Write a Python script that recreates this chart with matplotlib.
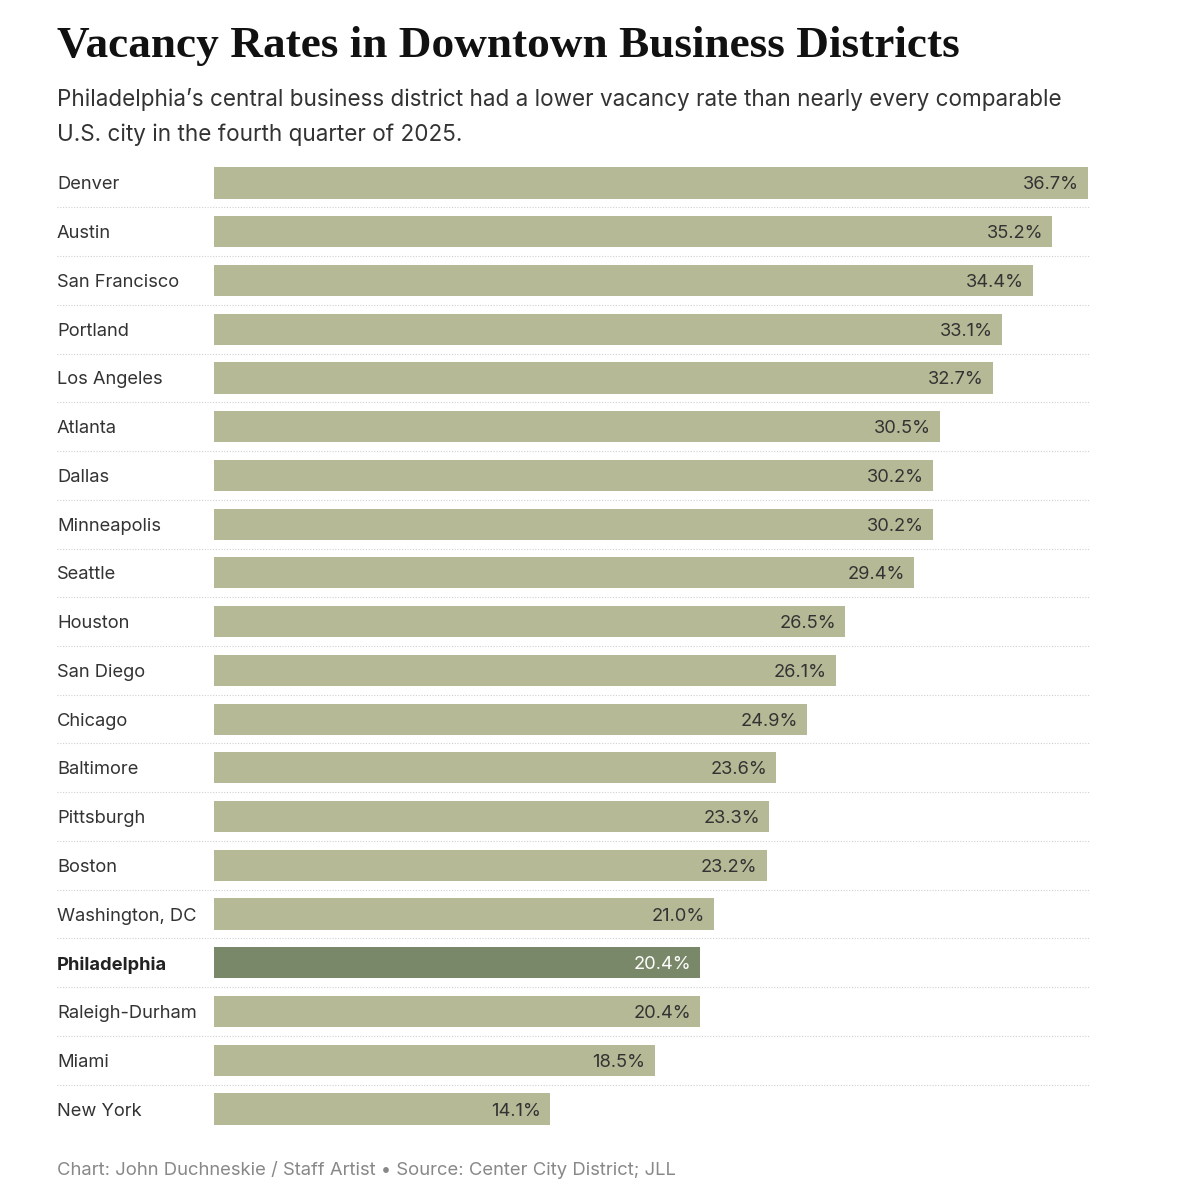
import matplotlib.pyplot as plt
from matplotlib.font_manager import FontProperties

# Data
cities = ["Denver", "Austin", "San Francisco", "Portland", "Los Angeles",
          "Atlanta", "Dallas", "Minneapolis", "Seattle", "Houston",
          "San Diego", "Chicago", "Baltimore", "Pittsburgh", "Boston",
          "Washington, DC", "Philadelphia", "Raleigh-Durham", "Miami", "New York"]
rates = [36.7, 35.2, 34.4, 33.1, 32.7, 30.5, 30.2, 30.2, 29.4, 26.5,
         26.1, 24.9, 23.6, 23.3, 23.2, 21.0, 20.4, 20.4, 18.5, 14.1]
highlight = "Philadelphia"

bar_color = "#b5b995"
hi_color = "#7a886a"
text_color = "#333333"
sans = ["Inter", "DejaVu Sans"]

W, H = 1200, 1188
fig = plt.figure(figsize=(W / 100, H / 100), dpi=100)

# axes placed in pixel terms: bar origin at x=214, Denver end at x=1088
left_px, right_px = 214, 1088
top_px, bottom_px = 158.6, 1133.4
ax = fig.add_axes([left_px / W, 1 - bottom_px / H,
                   (right_px - left_px) / W, (bottom_px - top_px) / H])
xmax = max(rates)
ax.set_xlim(0, xmax)
ax.set_ylim(len(cities) - 0.5, -0.5)
ax.axis("off")

px_per_unit = (right_px - left_px) / xmax
label_x = (57 - left_px) / px_per_unit
line_end = (1089 - left_px) / px_per_unit

for i, (city, val) in enumerate(zip(cities, rates)):
    is_hi = city == highlight
    ax.barh(i, val, height=0.64, color=hi_color if is_hi else bar_color)
    ax.text(label_x, i, city, ha="left", va="center_baseline", fontsize=13.2,
            family=sans, color="#222222" if is_hi else text_color,
            fontweight="bold" if is_hi else "normal", clip_on=False)
    ax.text(val - 9 / px_per_unit, i, f"{val:.1f}%", ha="right", va="center_baseline",
            fontsize=13.2, family=sans,
            color="white" if is_hi else text_color)
    if i < len(cities) - 1:
        ax.plot([label_x, line_end], [i + 0.5, i + 0.5], color="#d0d0d0",
                linestyle=(0, (1, 1.5)), linewidth=0.8, clip_on=False)

# title, subtitle, footer
title_font = FontProperties(family="Liberation Serif", weight="bold", size=32.6)
fig.text(57 / W, 1 - 57 / H, "Vacancy Rates in Downtown Business Districts",
         fontproperties=title_font, color="#111111", va="baseline", ha="left")
fig.text(57 / W, 1 - 106 / H,
         "Philadelphia\u2019s central business district had a lower vacancy rate than nearly every comparable",
         family=sans, fontsize=16.2, color=text_color, va="baseline", ha="left")
fig.text(57 / W, 1 - 141 / H, "U.S. city in the fourth quarter of 2025.",
         family=sans, fontsize=16.2, color=text_color, va="baseline", ha="left")
fig.text(57 / W, 1 - 1175 / H,
         "Chart: John Duchneskie / Staff Artist \u2022 Source: Center City District; JLL",
         family=sans, fontsize=13.3, color="#888888", va="baseline", ha="left")

plt.savefig("out.png", dpi=100)
